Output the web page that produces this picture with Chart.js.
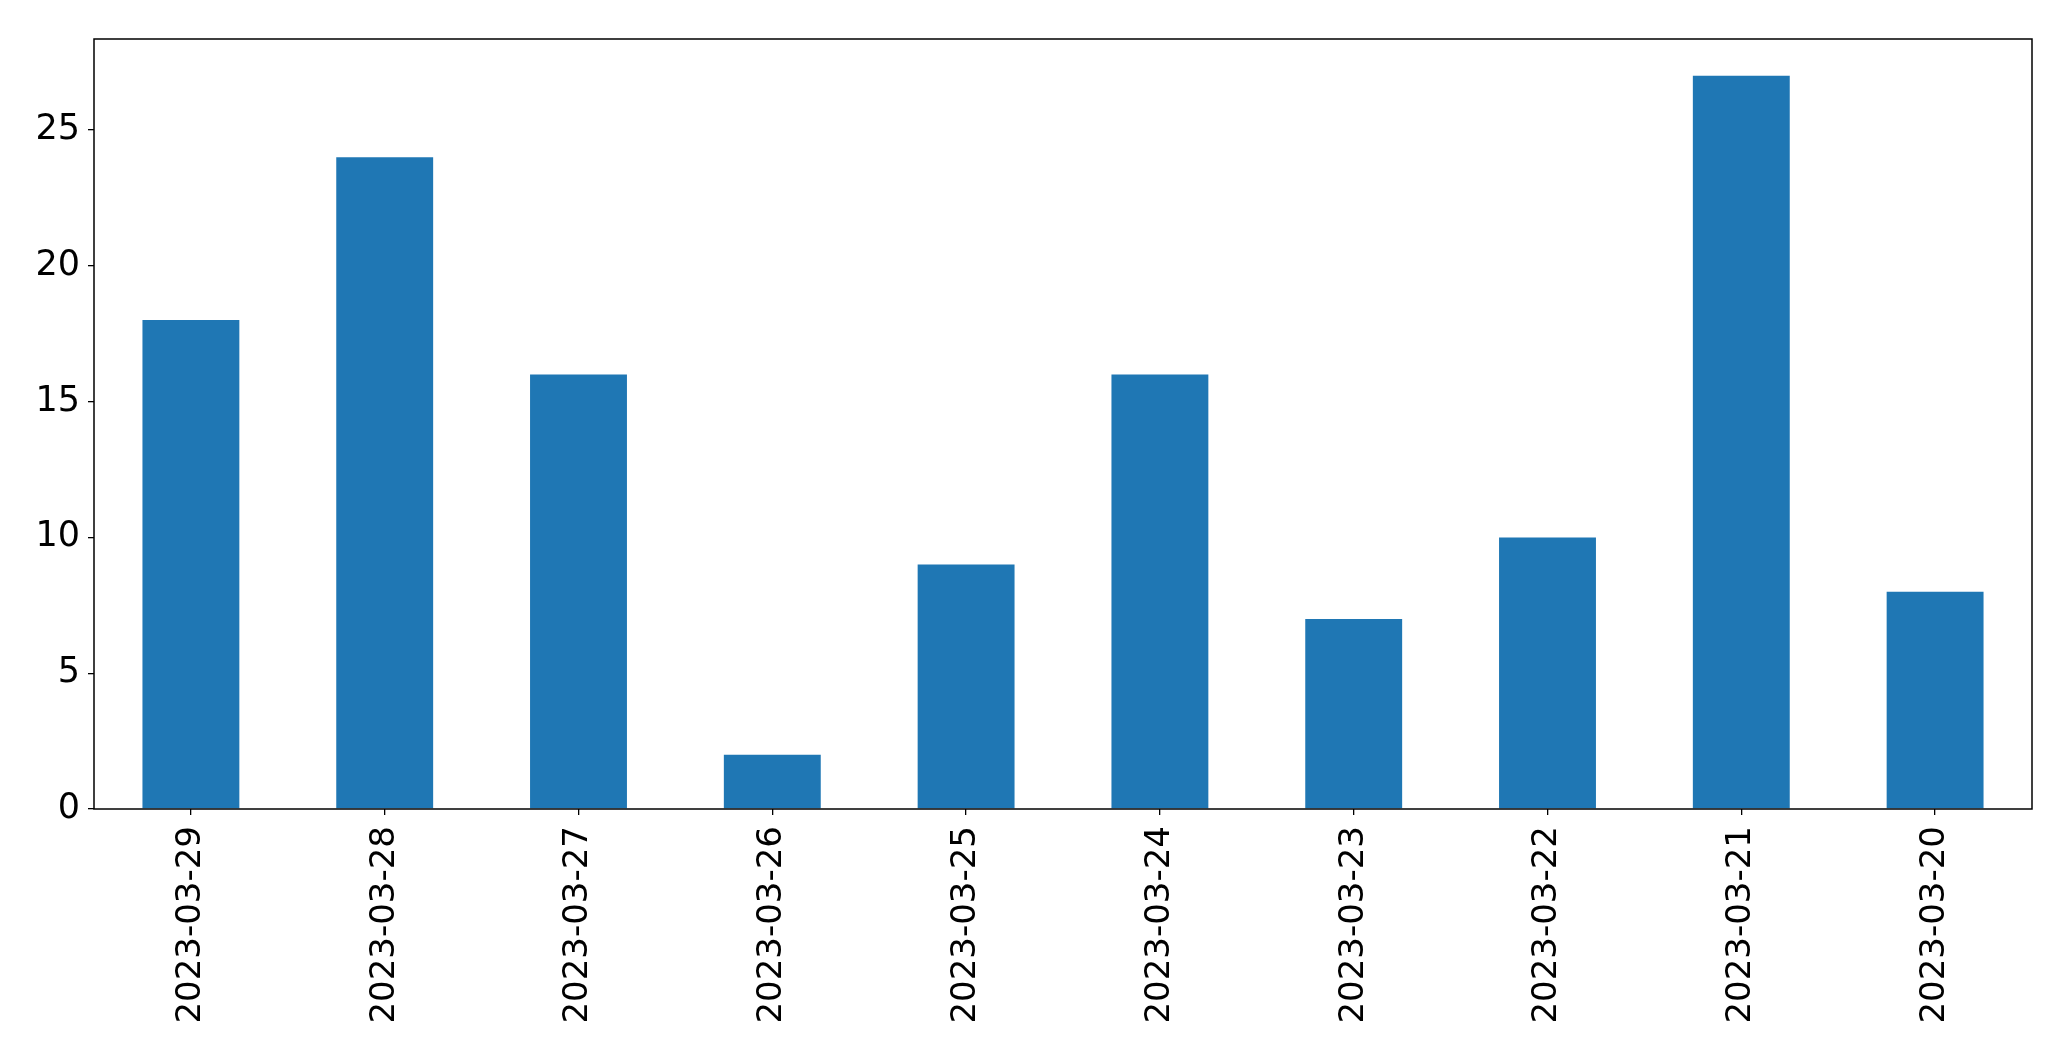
<!DOCTYPE html>
<html>
<head>
<meta charset="utf-8">
<script src="https://cdn.jsdelivr.net/npm/chart.js@4"></script>
<style>
  html, body { margin: 0; padding: 0; background: #fff; }
  canvas { display: block; }
</style>
</head>
<body>
<canvas id="bar-chart" width="2071" height="1061"></canvas>
<script>
const dates = [
  "2023-03-29", "2023-03-28", "2023-03-27", "2023-03-26", "2023-03-25",
  "2023-03-24", "2023-03-23", "2023-03-22", "2023-03-21", "2023-03-20"
];
const counts = [18, 24, 16, 2, 9, 16, 7, 10, 27, 8];
const yMax = 28.35;

// box around the plot area (top + right sides too, like matplotlib)
const frame = {
  id: "frame",
  afterDraw(chart) {
    const { ctx, chartArea: a } = chart;
    ctx.save();
    ctx.strokeStyle = "#000";
    ctx.lineWidth = 1.5;
    ctx.strokeRect(a.left, a.top, a.right - a.left, a.bottom - a.top);
    ctx.restore();
  }
};

const canvas = document.getElementById("bar-chart");
const ctx = canvas.getContext("2d");

new Chart(ctx, {
  type: "bar",
  data: {
    labels: dates,
    datasets: [
      {
        data: counts,
        backgroundColor: "#1f77b4",
        barPercentage: 0.5,
        categoryPercentage: 1.0
      }
    ]
  },
  options: {
    responsive: false,
    animation: false,
    layout: { padding: { top: 39, right: 39, left: 0, bottom: 0 } },
    plugins: {
      legend: { display: false },
      tooltip: { enabled: false }
    },
    scales: {
      x: {
        afterFit(scale) { scale.height = 252; },
        grid: {
          display: true,
          drawOnChartArea: false,
          offset: false,
          tickLength: 6,
          color: "#000",
          lineWidth: 1.3
        },
        border: { display: false },
        ticks: {
          color: "#000",
          font: { family: "DejaVu Sans", size: 34 },
          minRotation: 90,
          maxRotation: 90,
          autoSkip: false,
          padding: 11
        }
      },
      y: {
        min: 0,
        max: yMax,
        afterFit(scale) { scale.width = 94; },
        grid: {
          display: true,
          drawOnChartArea: false,
          tickLength: 6,
          color: "#000",
          lineWidth: 1.3
        },
        border: { display: false },
        ticks: {
          stepSize: 5,
          includeBounds: false,
          color: "#000",
          font: { family: "DejaVu Sans", size: 35 },
          padding: 8
        }
      }
    }
  },
  plugins: [frame]
});
</script>
</body>
</html>
